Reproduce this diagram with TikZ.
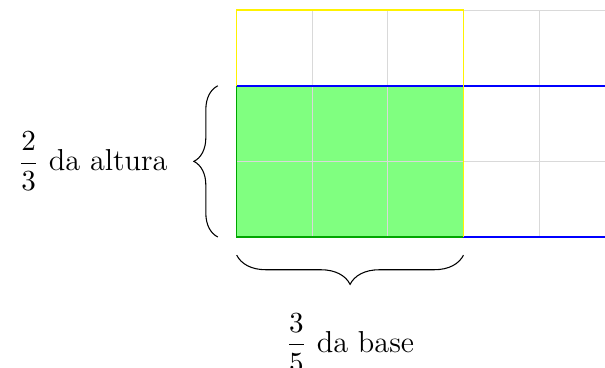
\documentclass[tikz,border=0pt]{standalone}
\usepackage{amsmath}
\usetikzlibrary{decorations.pathreplacing}
\begin{document}
\begin{tikzpicture}[font=\fontsize{11.4}{14}\selectfont]
    % Recorte com as margens da figura
    \clip (-3.131,-1.72) rectangle (4.872,3.135);
    
    % Região verde: 3/5 da base e 2/3 da altura
    \fill[green!50] (0,0) rectangle (3,2);
    
    % Malha 5 x 3
    \draw[gray!30] (0,0) grid (5,3);
    
    % Contornos das regiões
    \draw[semithick, green!65!black] (0,2) -- (0,0) -- (3,0);
    \draw[semithick, blue] (0,2) -- (5,2) (3,0) -- (5,0);
    \draw[semithick, yellow] (0,2) -- (0,3) -- (3,3) -- (3,0);
    
    % Chaves com os rótulos
    \coordinate (h0) at (-0.25,0);
    \coordinate (h1) at (-0.25,2);
    \coordinate (b0) at (0,-0.24);
    \coordinate (b1) at (3,-0.24);
    \draw[decorate, decoration={brace, amplitude=9pt}] (h0) -- (h1)
        node[midway, left=0.54cm] (altura) {$\dfrac{2}{3}$ da altura};
    \draw[decorate, decoration={brace, amplitude=11pt}] (b1) -- (b0)
        node[midway, below=0.65cm] (base) {$\dfrac{3}{5}$ da base};
\end{tikzpicture}
\end{document}
